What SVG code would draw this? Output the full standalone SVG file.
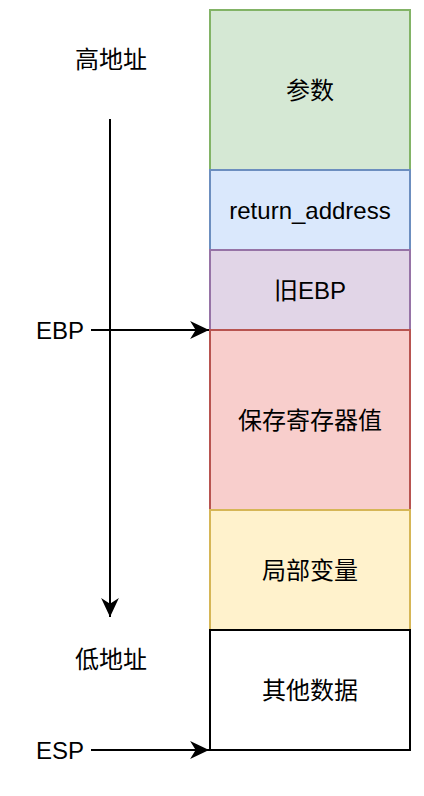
<svg xmlns="http://www.w3.org/2000/svg" width="424" height="796" viewBox="0 0 424 796">
<style>
text{font-family:"Liberation Sans","Noto Sans CJK SC",sans-serif;font-size:24px;fill:#000}
.c{text-anchor:middle}
.box{stroke-width:2}
.ln{stroke:#000;stroke-width:2;fill:none}
</style>
<defs>
<marker id="ah" markerUnits="userSpaceOnUse" markerWidth="20" markerHeight="20" viewBox="0 0 18 18" refX="17" refY="9" orient="auto">
<path d="M0,1 L17,9 L0,17 L5,9 Z" fill="#000"/>
</marker>
</defs>
<rect width="424" height="796" fill="#fff"/>
<g id="n-params"><rect class="box" x="210" y="10" width="200" height="160" fill="#d5e8d4" stroke="#82b366"/><text class="c" x="310" y="98.5">参数</text></g>
<g id="n-ret"><rect class="box" x="210" y="170" width="200" height="80" fill="#dae8fc" stroke="#6c8ebf"/><text class="c" x="310" y="218.5">return_address</text></g>
<g id="n-oldebp"><rect class="box" x="210" y="250" width="200" height="80" fill="#e1d5e7" stroke="#9673a6"/><text class="c" x="310" y="298.5">旧EBP</text></g>
<g id="n-saved"><rect class="box" x="210" y="330" width="200" height="180" fill="#f8cecc" stroke="#b85450"/><text class="c" x="310" y="428.5">保存寄存器值</text></g>
<g id="n-locals"><rect class="box" x="210" y="510" width="200" height="120" fill="#fff2cc" stroke="#d6b656"/><text class="c" x="310" y="578.5">局部变量</text></g>
<g id="n-other"><rect class="box" x="210" y="630" width="200" height="120" fill="#ffffff" stroke="#000000"/><text class="c" x="310" y="698.5">其他数据</text></g>
<g id="n-high"><text class="c" x="111" y="68">高地址</text></g>
<g id="n-low"><text class="c" x="111" y="668">低地址</text></g>
<g id="n-ebp"><text x="84" y="338.5" text-anchor="end">EBP</text></g>
<g id="n-esp"><text x="84" y="758.5" text-anchor="end">ESP</text></g>
<g id="connectors">
<line class="ln" x1="110" y1="119" x2="110" y2="617" marker-end="url(#ah)"/>
<line class="ln" x1="91" y1="330" x2="209" y2="330" marker-end="url(#ah)"/>
<line class="ln" x1="91" y1="750" x2="209" y2="750" marker-end="url(#ah)"/>
</g>
</svg>
